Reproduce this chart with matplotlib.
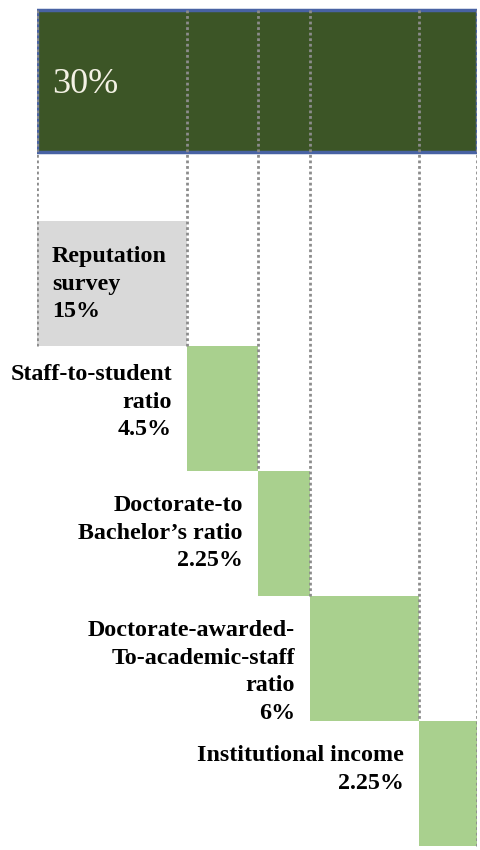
import numpy as np
import matplotlib.pyplot as plt
from matplotlib.scale import FuncScale

# Datele graficului
total = 30
total_label = "30%"
labels = ["Reputation\nsurvey", "Staff-to-student\nratio", "Doctorate-to\nBachelor’s ratio",
          "Doctorate-awarded-\nTo-academic-staff\nratio", "Institutional income"]
values = [15, 4.5, 2.25, 6, 2.25]

cum = np.concatenate([[0], np.cumsum(values)])

# Latimi vizuale ale coloanelor (nu sunt proportionale in original)
px_edges = np.array([0, 150, 221, 273, 382, 440], dtype=float)

def fwd(x):
    return np.interp(x, cum, px_edges)

def inv(y):
    return np.interp(y, px_edges, cum)

W, H = 481, 850
fig = plt.figure(figsize=(W / 100, H / 100), dpi=100)
ax = fig.add_axes([37 / W, 0, 440 / W, 1])
ax.set_xscale(FuncScale(ax.xaxis, (fwd, inv)))
ax.set_xlim(0, total)
ax.set_ylim(H, 0)
ax.axis('off')

serif = ['Liberation Serif', 'DejaVu Serif']
dot_col = '#8c8c8c'

# Bara totala sus
top_y, top_h = 10, 142
ax.bar(0, top_h, width=total, bottom=top_y, align='edge', color='#3c5526',
       edgecolor='#4862a3', linewidth=2.5, zorder=2)
ax.annotate(total_label, (0, top_y + top_h / 2), xytext=(15, -3), textcoords='offset pixels',
            color='#f3f1e4', fontsize=26, family=serif, va='center', ha='left', zorder=5)

# Barele din cascada
row0, row_h = 221, 125
tops = row0 + row_h * np.arange(len(values))
colors = ['#d9d9d9'] + ['#a9d08e'] * (len(values) - 1)
ax.bar(cum[:-1], row_h, width=values, bottom=tops, align='edge', color=colors,
       linewidth=0, zorder=2)

# Liniile punctate verticale
bottoms = np.concatenate([[tops[0] + row_h], tops + row_h])
ax.vlines(cum, top_y, bottoms, colors=dot_col, linestyles=(0, (1, 1)),
          linewidth=2, zorder=4)

# Etichete
fs, ls = 17.3, 1.42
for i, (lab, v) in enumerate(zip(labels, values)):
    txt = f"{lab}\n{v:g}%"
    if i == 0:
        ax.annotate(txt, (cum[i], tops[i]), xytext=(15, -25), textcoords='offset pixels',
                    ha='left', va='top', fontsize=fs, fontweight='bold', family=serif,
                    linespacing=ls, zorder=5)
    else:
        dy = -18 if i == 1 else -24
        ax.annotate(txt, (cum[i], tops[i]), xytext=(-15, dy), textcoords='offset pixels',
                    ha='right', va='top', fontsize=fs, fontweight='bold', family=serif,
                    linespacing=ls, multialignment='right', zorder=5)

fig.savefig('out.png', dpi=100)
